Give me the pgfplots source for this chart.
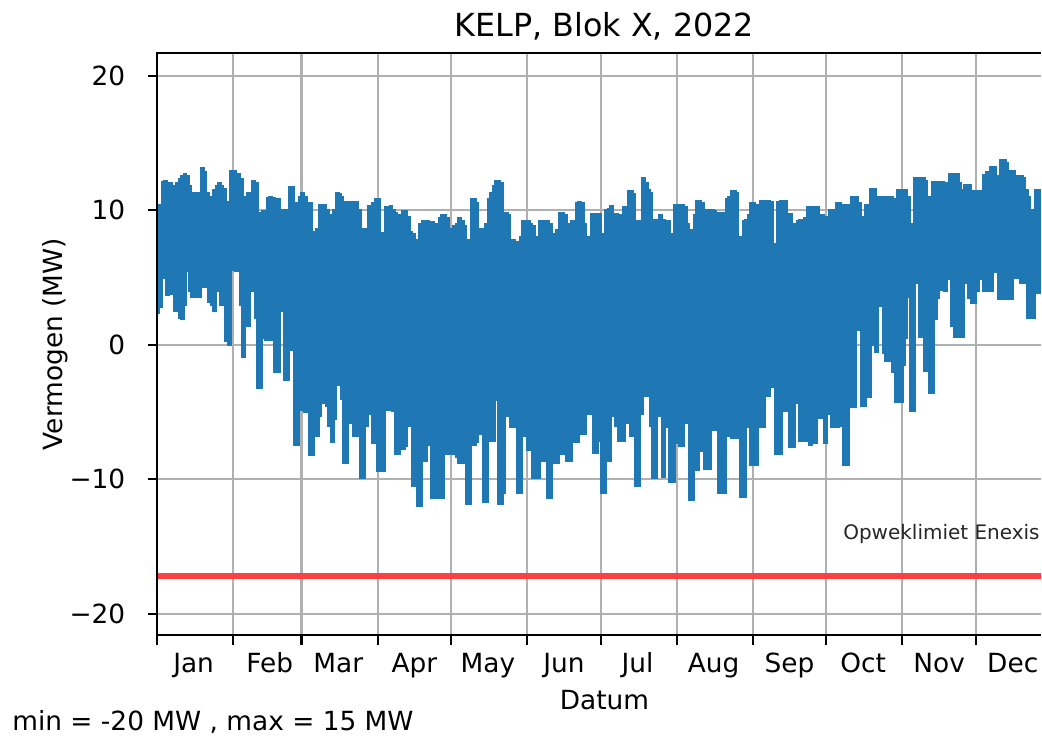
\documentclass[border=0pt]{standalone}
\usepackage{pgfplots}
\pgfplotsset{compat=1.18}
\usepgfplotslibrary{fillbetween}
\usepackage{pgfplotstable}
\usepackage{fontspec}
\setmainfont{DejaVu Sans}
\definecolor{mplblue}{HTML}{1F77B4}
\definecolor{mplgrid}{HTML}{B0B0B0}
\definecolor{limred}{HTML}{FF4040}
\pgfplotstableread{
d hi lo
0 10.3 2.4
1 10.4 2.8
2 12.1 5.3
3 12.2 5.0
4 12.0 3.7
5 12.0 3.8
6 11.8 5.1
7 8.6 2.5
8 12.0 2.5
9 12.3 2.0
10 12.5 1.9
11 12.7 3.0
12 12.5 5.5
13 11.8 4.0
14 9.9 3.6
15 11.3 3.6
16 11.3 3.6
17 11.0 3.6
18 13.1 4.3
19 12.8 4.3
20 11.3 4.3
21 11.0 3.2
22 8.4 3.0
23 11.5 2.5
24 11.8 4.0
25 12.0 6.2
26 11.8 3.0
27 11.6 3.0
28 10.5 0.3
29 10.6 0.0
30 12.9 5.8
31 12.9 5.6
32 12.7 5.5
33 12.7 5.8
34 12.3 3.0
35 11.0 -0.9
36 8.4 1.4
37 11.3 1.4
38 11.2 4.0
39 12.2 5.2
40 12.0 2.0
41 9.6 -3.2
42 9.8 -3.2
43 9.9 0.5
44 9.9 0.4
45 10.9 0.4
46 11.0 0.5
47 10.9 0.4
48 10.8 -2.0
49 10.8 -2.0
50 10.0 3.7
51 10.0 2.5
52 10.0 -2.6
53 10.0 -2.6
54 11.7 -0.4
55 11.7 -0.4
56 7.3 -7.4
57 10.5 -7.4
58 11.0 -4.8
59 11.3 -4.8
60 11.0 -5.0
61 10.5 -4.8
62 10.5 -8.2
63 8.4 -8.2
64 8.4 -6.0
65 8.6 -6.8
66 10.4 -5.3
67 10.4 -4.3
68 10.4 -4.3
69 10.0 -4.5
70 9.6 -6.0
71 9.5 -7.2
72 10.0 -5.5
73 11.3 -0.2
74 11.2 -3.0
75 11.0 -4.0
76 10.0 -8.8
77 10.6 -8.8
78 10.6 -5.8
79 10.5 -5.8
80 10.6 -6.8
81 10.6 -6.8
82 10.0 -6.0
83 8.6 -9.9
84 8.6 -9.9
85 8.6 -6.0
86 10.3 -5.1
87 9.6 -5.1
88 10.5 -7.3
89 10.8 4.2
90 10.8 -9.4
91 8.3 -9.4
92 8.3 -9.4
93 10.2 3.7
94 10.2 -4.8
95 10.3 -4.8
96 10.0 -4.9
97 9.8 -8.1
98 9.6 -8.1
99 7.8 -7.7
100 9.9 -7.7
101 9.9 -7.5
102 9.5 -6.0
103 8.4 -6.0
104 8.2 -10.5
105 7.8 -10.5
106 7.5 -12.0
107 9.0 -12.0
108 9.2 -8.6
109 9.2 -8.6
110 9.2 -7.4
111 9.0 -7.4
112 9.1 -11.4
113 9.0 -11.4
114 7.8 -5.0
115 9.4 -11.4
116 9.6 -11.4
117 9.6 -8.1
118 9.4 -8.1
119 8.6 -8.1
120 7.8 -8.1
121 8.8 -8.1
122 9.0 -8.3
123 9.4 -8.8
124 9.2 -8.8
125 8.8 -8.8
126 7.8 -11.8
127 7.6 -11.8
128 10.8 -7.4
129 10.8 -7.4
130 10.5 -7.2
131 8.6 -6.6
132 8.4 -6.6
133 8.6 -11.7
134 9.0 -11.7
135 10.8 -7.1
136 11.3 -7.1
137 11.8 -7.1
138 12.2 -4.1
139 12.2 -11.8
140 12.0 -11.8
141 7.1 -11.0
142 9.8 -5.3
143 9.6 -5.3
144 7.8 -6.1
145 7.8 -6.1
146 7.6 -6.1
147 7.1 -11.0
148 8.0 -11.0
149 9.2 -6.8
150 9.2 -6.8
151 9.2 -7.8
152 9.0 -7.8
153 8.8 -9.9
154 8.0 -9.9
155 7.1 -9.9
156 9.2 -8.6
157 9.2 -8.6
158 9.2 -1.5
159 9.2 -11.4
160 9.0 -11.4
161 8.2 -8.8
162 7.1 -8.8
163 8.5 -8.8
164 9.8 -8.1
165 9.8 -8.1
166 9.6 -8.1
167 9.0 -8.6
168 8.0 -8.6
169 9.2 -7.2
170 9.0 -7.2
171 10.5 -7.2
172 10.6 -6.6
173 10.5 -6.6
174 9.0 -6.6
175 7.9 -5.0
176 8.0 -5.1
177 9.7 -1.7
178 9.7 -8.0
179 9.7 -8.0
180 9.7 -7.1
181 8.2 -11.0
182 7.4 -11.0
183 10.0 -8.6
184 10.1 -8.6
185 10.3 -5.3
186 9.7 -5.3
187 9.7 -6.0
188 9.6 -7.1
189 8.3 -7.1
190 10.2 -7.1
191 10.2 -5.8
192 11.4 -5.8
193 11.4 -6.8
194 11.2 -6.8
195 9.2 -10.5
196 9.2 -10.5
197 9.0 -5.1
198 12.4 -3.8
199 12.0 -3.8
200 11.5 -3.8
201 11.3 -6.0
202 8.4 -9.9
203 9.3 -9.9
204 9.3 -5.0
205 9.6 -5.3
206 9.3 -9.8
207 9.2 -6.1
208 9.2 -6.1
209 8.2 -10.2
210 8.2 -10.2
211 10.4 -7.3
212 10.4 -7.3
213 10.4 -7.5
214 10.4 -7.5
215 10.2 -5.8
216 9.0 -5.8
217 8.4 -11.5
218 8.5 -11.5
219 9.6 -9.3
220 10.7 -9.3
221 10.7 -7.9
222 10.5 -7.9
223 10.0 -9.2
224 10.0 -9.2
225 10.0 -9.2
226 10.0 -6.3
227 9.9 -6.3
228 9.8 -4.6
229 9.8 -11.0
230 9.8 -11.0
231 7.8 -11.0
232 10.8 -6.8
233 11.0 -6.8
234 11.4 -6.9
235 11.4 -6.9
236 11.3 -6.9
237 7.8 -2.2
238 8.0 -11.3
239 9.2 -11.3
240 9.3 -6.1
241 9.6 -6.1
242 10.5 -8.9
243 10.5 -8.9
244 10.4 -8.9
245 8.8 -6.1
246 10.7 -6.1
247 10.7 -6.1
248 10.7 -3.8
249 10.7 -3.8
250 10.6 -3.1
251 7.4 -3.1
252 7.5 -8.1
253 10.6 -8.1
254 10.7 -8.1
255 10.7 2.7
256 10.7 -4.9
257 9.7 -4.9
258 9.7 -7.6
259 7.3 -7.6
260 9.0 -4.3
261 9.2 -4.3
262 9.3 -7.1
263 9.3 -7.1
264 9.4 -7.1
265 10.2 -3.3
266 10.2 -7.4
267 10.2 2.6
268 10.2 -7.3
269 10.2 -5.3
270 9.6 -5.4
271 9.6 -5.4
272 9.5 -7.25
273 7.9 -5.1
274 10.0 -5.1
275 10.0 -6.1
276 10.0 -6.1
277 10.5 -6.1
278 10.5 -6.0
279 9.0 -5.4
280 10.4 -8.9
281 10.4 -8.9
282 10.4 -4.6
283 11.0 -4.6
284 11.0 -4.6
285 11.0 5.2
286 10.5 1.1
287 8.6 -4.5
288 9.5 -4.5
289 10.4 -3.9
290 10.4 -3.9
291 11.6 0.0
292 11.6 0.5
293 11.0 -0.5
294 8.8 2.9
295 11.0 2.9
296 11.0 -0.6
297 11.0 -1.2
298 11.0 -1.2
299 11.0 -1.2
300 10.8 -2.0
301 9.0 -4.2
302 11.5 -4.2
303 11.5 -4.2
304 11.5 -1.5
305 11.5 0.5
306 11.0 3.6
307 8.6 -4.9
308 9.0 -4.9
309 12.4 4.6
310 12.4 4.6
311 12.4 0.6
312 12.4 0.6
313 12.2 -1.9
314 10.1 -1.9
315 11.0 -3.6
316 12.1 -3.6
317 12.1 1.9
318 12.1 3.5
319 12.1 4.1
320 12.1 4.1
321 12.0 4.0
322 10.1 4.9
323 12.7 4.9
324 12.7 1.4
325 12.7 0.6
326 12.7 0.6
327 12.0 0.6
328 11.5 0.6
329 11.9 4.6
330 11.9 4.6
331 11.9 3.5
332 10.2 3.1
333 11.4 3.1
334 11.4 4.0
335 11.4 4.9
336 11.4 4.9
337 12.6 4.0
338 12.8 4.0
339 12.8 4.0
340 13.2 4.0
341 13.2 5.4
342 11.4 5.4
343 12.5 3.4
344 13.7 3.4
345 13.7 3.4
346 13.5 3.5
347 12.9 3.4
348 12.9 3.4
349 12.9 5.0
350 12.5 5.0
351 12.5 5.0
352 12.5 4.6
353 12.4 4.6
354 11.5 4.6
355 11.0 2.0
356 10.0 2.0
357 9.4 2.0
358 11.5 3.9
359 11.5 3.9
360 11.5 3.9
361 11.2 4.5
}\kelp
\begin{document}
\begin{tikzpicture}
\begin{axis}[
  at={(0,0)}, anchor=south west,
  scale only axis, width=442.5bp, height=291.5bp,
  xmin=0, xmax=360.5, ymin=-21.6, ymax=21.7,
  axis line style={draw=none},
  xtick={0,31,59,90,120,151,181,212,243,273,304,334},
  xticklabels={},
  extra x ticks={15,46,74,105,135,166,196,227,258,288,319,349},
  extra x tick labels={Jan,Feb,Mar,Apr,May,Jun,Jul,Aug,Sep,Oct,Nov,Dec},
  extra x tick style={major tick length=0pt, grid=none},
  ytick={-20,-10,0,10,20},
  yticklabels={−20,−10,0,10,20},
  xtick pos=bottom, ytick pos=left,
  tick align=outside, major tick length=4.6bp,
  every tick/.style={black, line width=1.06bp},
  grid=major, grid style={mplgrid, line width=1.06bp},
  tick label style={font=\fontsize{13.2bp}{16bp}\selectfont},
  xticklabel style={anchor=base, yshift=-18.5bp, inner sep=0pt},
  yticklabel style={anchor=east, inner sep=0pt, xshift=-11bp},
  clip=true,
]
\addplot[name path=hiP, draw=none, const plot mark mid, mark=none, forget plot]
  table[x expr=\thisrow{d}+0.5, y=hi] {\kelp};
\addplot[name path=loP, draw=none, const plot mark mid, mark=none, forget plot]
  table[x expr=\thisrow{d}+0.5, y=lo] {\kelp};
\addplot[fill=mplblue, draw=mplblue, line width=1.2bp, forget plot] fill between[of=hiP and loP];
\addplot[limred, line width=3bp, forget plot] coordinates {(0,-17.2) (360.5,-17.2)};
\end{axis}
\draw[black, line width=1.06bp] (442.5bp,0bp) -- (0bp,0bp) -- (0bp,291.5bp) -- (442.5bp,291.5bp);
\node[anchor=base, font=\fontsize{15.9bp}{19bp}\selectfont] at (224bp,299.5bp) {KELP, Blok X, 2022};
\node[anchor=base, font=\fontsize{13.2bp}{16bp}\selectfont] at (224bp,-37bp) {Datum};
\node[anchor=base, rotate=90, font=\fontsize{13.2bp}{16bp}\selectfont] at (-47.4bp,145.75bp) {Vermogen (MW)};
\node[anchor=base west, inner sep=0pt, font=\fontsize{13.2bp}{16bp}\selectfont] at (-72.5bp,-47.5bp) {min = -20 MW , max = 15 MW};
\node[anchor=base east, inner sep=0pt, text=black!85, font=\fontsize{10bp}{12bp}\selectfont] at (442bp,48bp) {Opweklimiet Enexis};
\path (-78.5bp,-51bp) rectangle (442.5bp,318bp);
\end{tikzpicture}
\end{document}
